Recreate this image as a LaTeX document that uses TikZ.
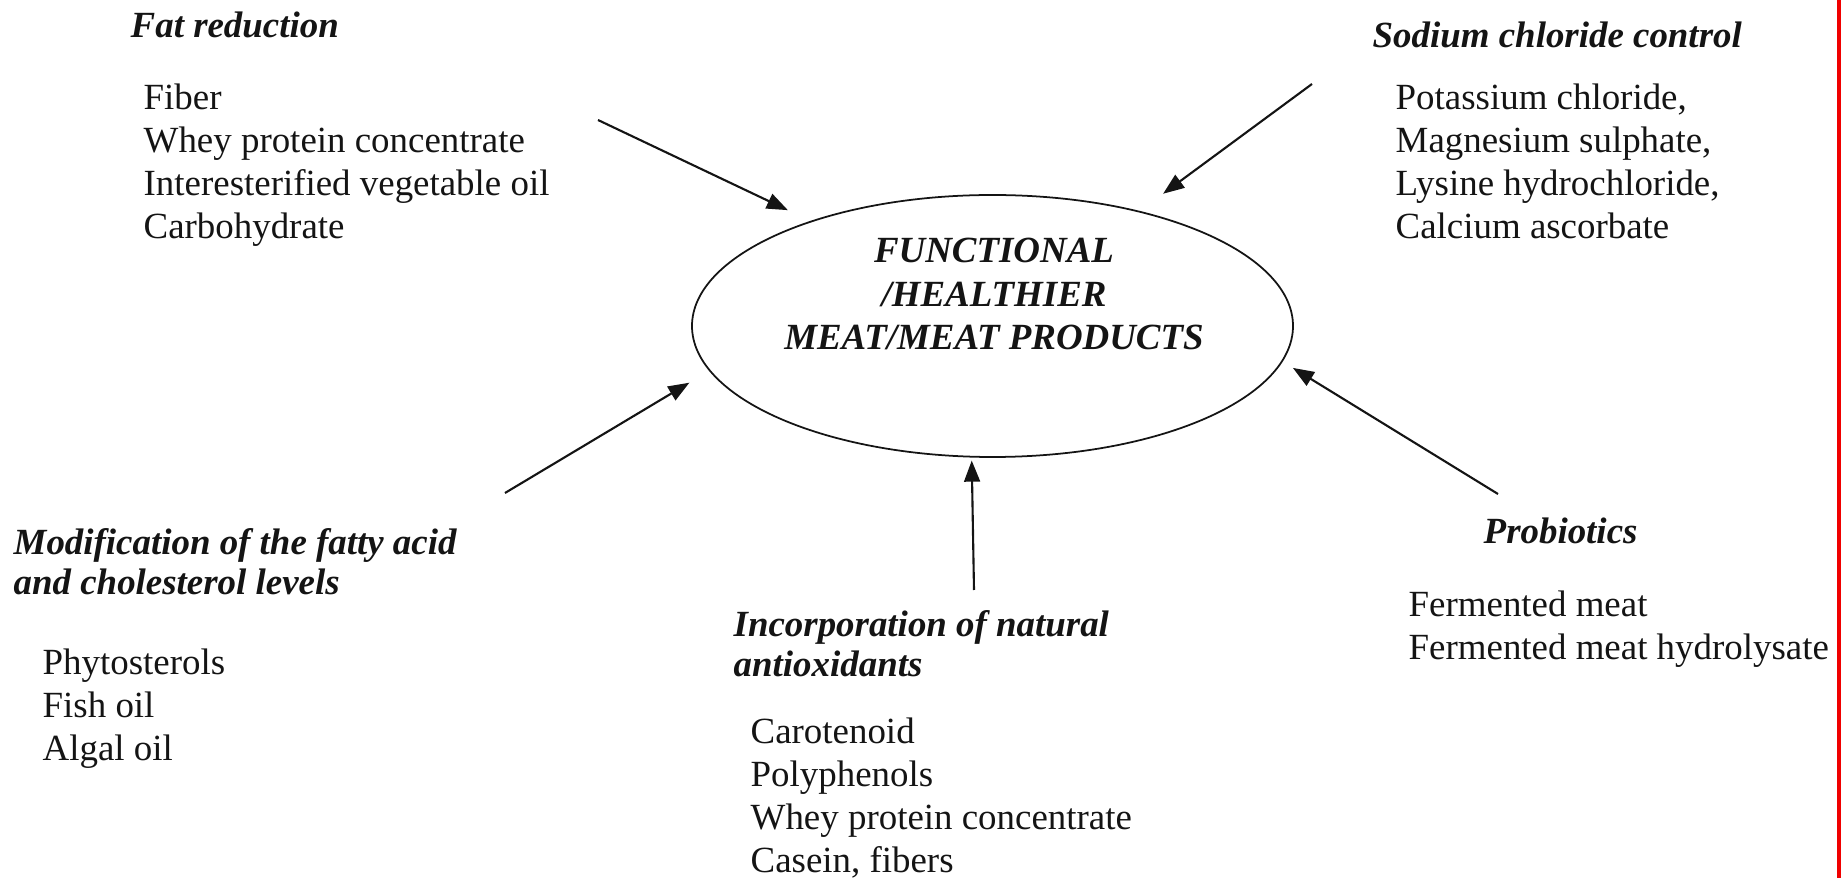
\documentclass[tikz,border=0pt]{standalone}
\usepackage{fontspec}
\setmainfont{Liberation Serif}
\usetikzlibrary{arrows.meta,shapes.geometric}
\definecolor{inktext}{RGB}{20,20,20}
\definecolor{edgered}{RGB}{240,0,0}

\begin{document}
\begin{tikzpicture}[
  grouphead/.style={anchor=north west,inner sep=0pt,align=left,
                    font=\fontsize{10.5}{11.4}\selectfont\bfseries\itshape,text=inktext},
  itemlist/.style={anchor=north west,inner sep=0pt,align=left,
                   font=\fontsize{10.5}{12.3}\selectfont,text=inktext},
  hub/.style={draw=inktext,ellipse,line width=0.5pt,inner sep=0pt,
              minimum width=6.01cm,minimum height=2.62cm},
  arr/.style={-{Triangle[length=6pt,width=4.5pt]},line width=0.6pt,color=inktext}]
\useasboundingbox (0,0) rectangle (18.41,-8.78);
% Centre ellipse
\node[hub](hub) at (9.925,-3.26) {};
\node[anchor=north,inner sep=0pt,align=center,text=inktext,
      font=\fontsize{10.5}{12.35}\selectfont\bfseries\itshape](hubtext) at (9.94,-2.375)
  {FUNCTIONAL\\/HEALTHIER\\MEAT/MEAT PRODUCTS};
% Groups round it
\node[grouphead](fathead) at (1.30,-0.11) {Fat reduction};
\node[itemlist](fatlist) at (1.43,-0.83)
  {Fiber\\Whey protein concentrate\\Interesterified vegetable oil\\Carbohydrate};
\node[grouphead](sodhead) at (13.72,-0.21) {Sodium chloride control};
\node[itemlist](sodlist) at (13.95,-0.83)
  {Potassium chloride,\\Magnesium sulphate,\\Lysine hydrochloride,\\Calcium ascorbate};
\node[grouphead](modhead) at (0.13,-5.28)
  {Modification of the fatty acid\\and cholesterol levels};
\node[itemlist](modlist) at (0.42,-6.48) {Phytosterols\\Fish oil\\Algal oil};
\node[grouphead](antihead) at (7.33,-6.10) {Incorporation of natural\\antioxidants};
\node[itemlist](antilist) at (7.50,-7.17)
  {Carotenoid\\Polyphenols\\Whey protein concentrate\\Casein, fibers};
\node[grouphead](probhead) at (14.83,-5.17) {Probiotics};
\node[itemlist](problist) at (14.08,-5.90)
  {Fermented meat\\Fermented meat hydrolysate};
% Arrow tails
\coordinate (fattail) at (5.98,-1.20);
\coordinate (sodtail) at (13.12,-0.84);
\coordinate (modtail) at (5.05,-4.93);
\coordinate (antitail) at (9.74,-5.90);
\coordinate (probtail) at (14.98,-4.94);
\draw[arr,shorten >=0.25cm](fattail)--(hub.150.9);
\draw[arr,shorten >=0.29cm](sodtail)--(hub.38.2);
\draw[arr,shorten >=0.23cm](modtail)--(hub.189.4);
\draw[arr,shorten >=0.03cm](antitail)--(hub.261.9);
\draw[arr,shorten >=0.12cm](probtail)--(hub.353.6);
% Red edge at right
\draw[edgered,line width=1.2pt](18.39,0)--(18.39,-8.78);
\end{tikzpicture}
\end{document}
